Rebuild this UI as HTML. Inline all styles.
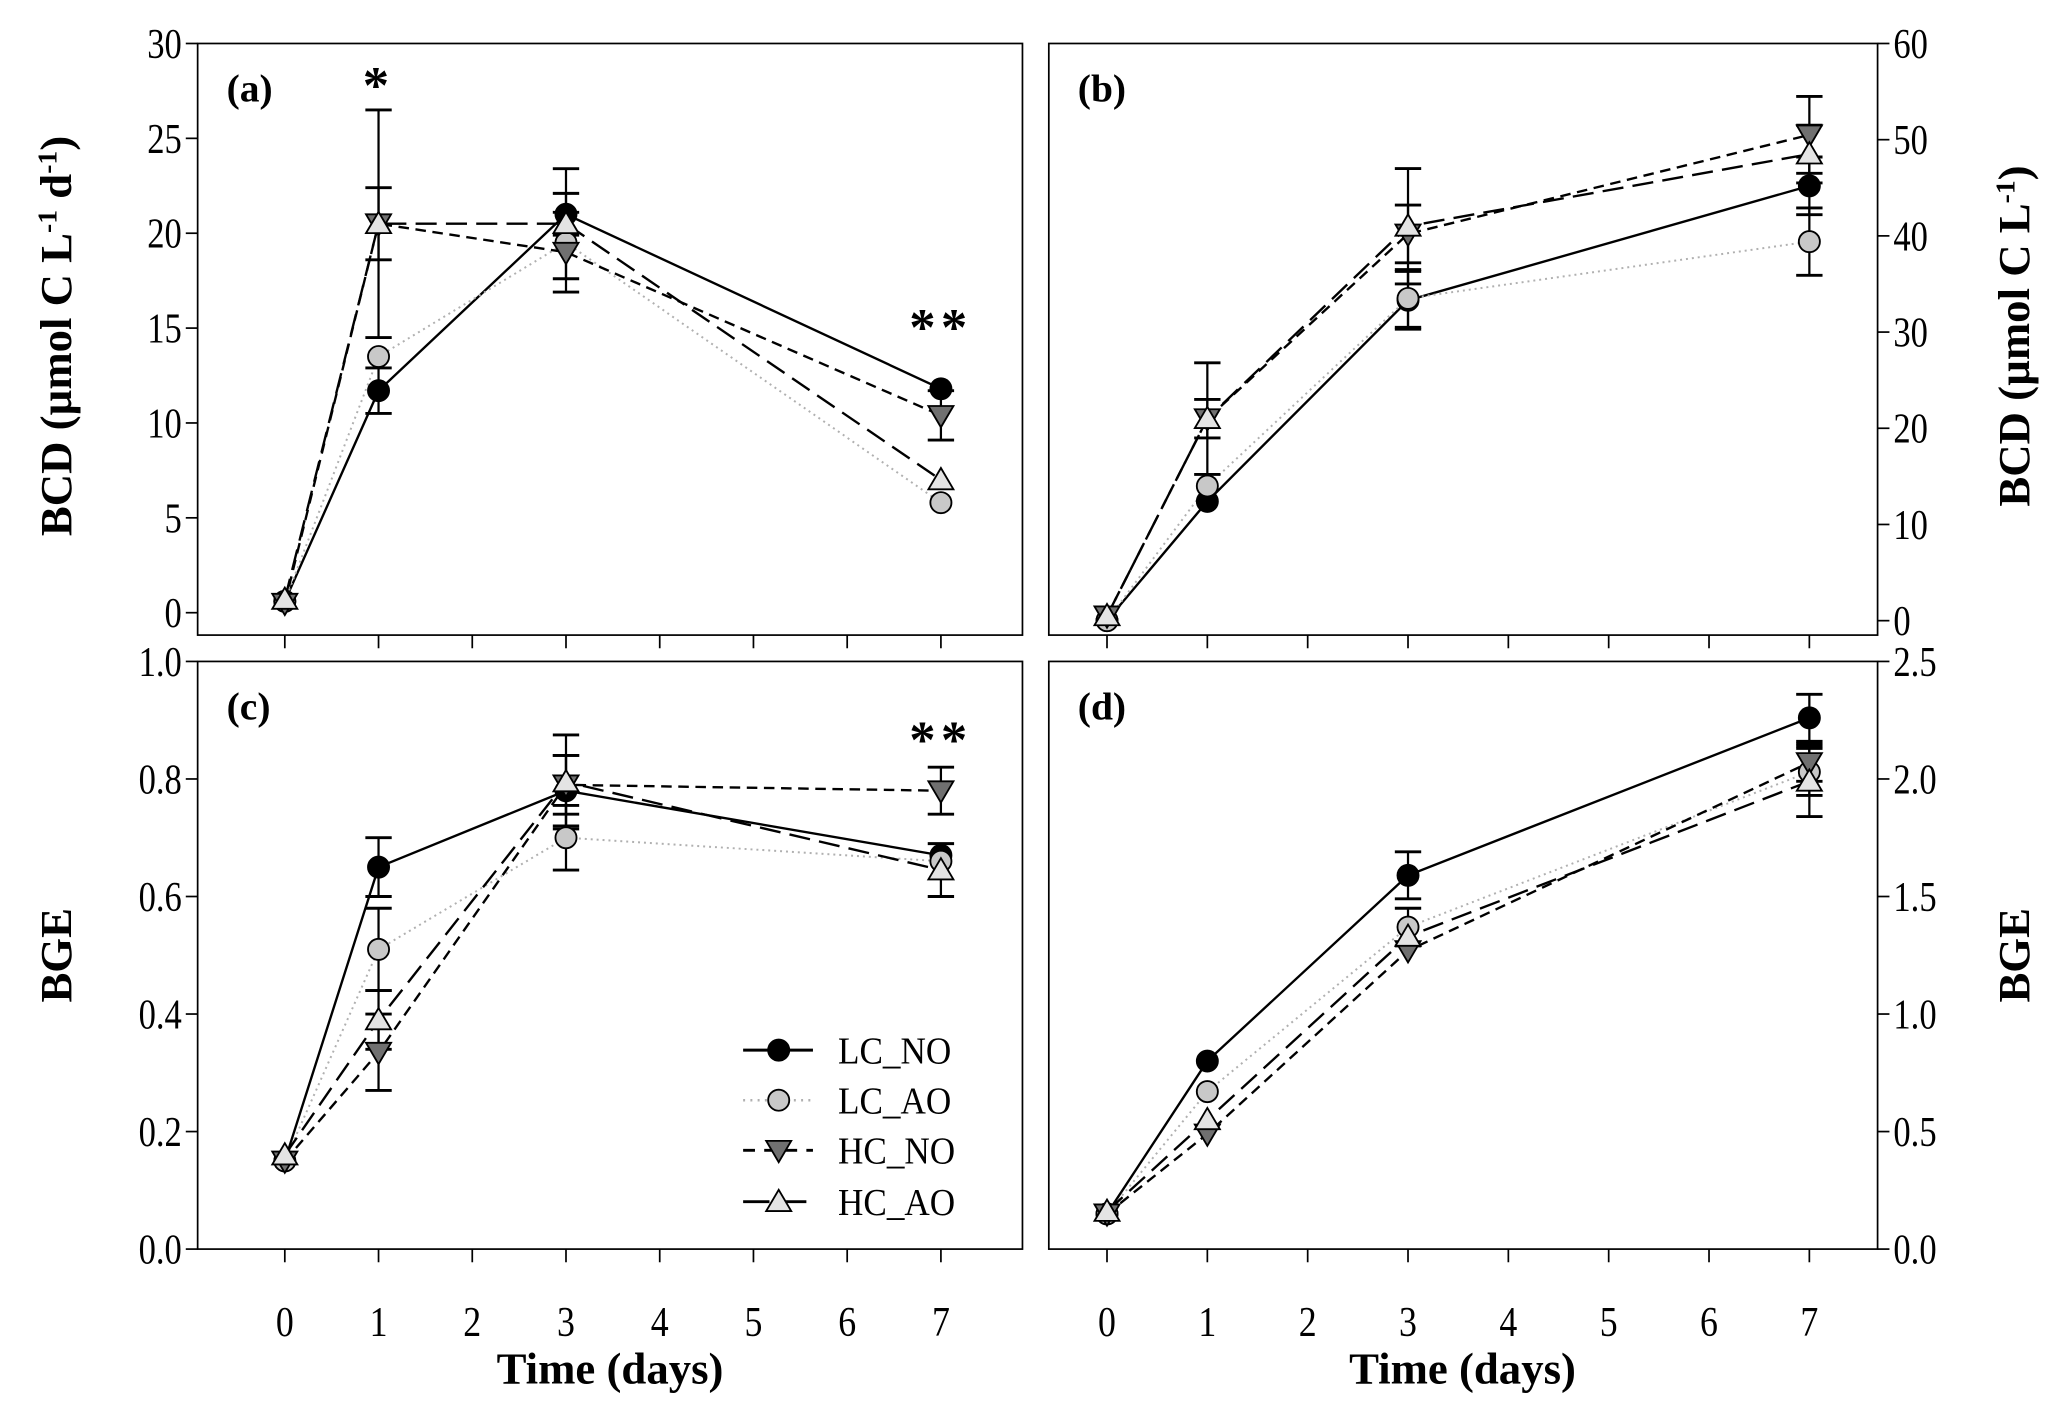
<!DOCTYPE html>
<html><head><meta charset="utf-8"><style>
html,body{margin:0;padding:0;background:#fff;}
svg{display:block;font-family:"Liberation Serif",serif;}
</style></head><body>
<svg id="fig" width="2066" height="1408" viewBox="0 0 1568 1068.6" xmlns="http://www.w3.org/2000/svg"></svg>
<script>
const days = [0, 1, 3, 7];
const seriesNames = ["LC_NO", "LC_AO", "HC_NO", "HC_AO"];
// Panel (a) BCD rate
const aLCNO = [0.6, 11.7, 21.0, 11.8];   const aLCNOerr = [0.2, 1.2, 1.1, 0.6];
const aLCAO = [0.6, 13.5, 19.5, 5.8];    const aLCAOerr = [0.2, 0.5, 0.8, 0.3];
const aHCNO = [0.5, 20.5, 19.0, 10.4];   const aHCNOerr = [0.2, 1.9, 2.1, 1.3];
const aHCAO = [0.7, 20.5, 20.5, 7.0];    const aHCAOerr = [0.2, 6.0, 2.9, 0.7];
// Panel (b) cumulative BCD
const bLCNO = [0, 12.4, 33.3, 45.2];     const bLCNOerr = [0.5, 1.5, 3.0, 3.0];
const bLCAO = [0, 14.0, 33.5, 39.4];     const bLCAOerr = [0.5, 1.5, 3.0, 3.5];
const bHCNO = [0.5, 21.0, 40.2, 50.5];   const bHCNOerr = [0.5, 2.0, 3.0, 4.0];
const bHCAO = [0.5, 21.0, 41.0, 48.5];   const bHCAOerr = [0.5, 5.8, 6.0, 3.0];
// Panel (c) BGE
const cLCNO = [0.15, 0.65, 0.78, 0.67];  const cLCNOerr = [0.01, 0.05, 0.06, 0.02];
const cLCAO = [0.15, 0.51, 0.70, 0.66];  const cLCAOerr = [0.01, 0.07, 0.055, 0.02];
const cHCNO = [0.15, 0.335, 0.79, 0.78]; const cHCNOerr = [0.01, 0.065, 0.05, 0.04];
const cHCAO = [0.16, 0.39, 0.795, 0.645];const cHCAOerr = [0.01, 0.05, 0.08, 0.045];
// Panel (d) cumulative BGE
const dLCNO = [0.15, 0.80, 1.59, 2.26];  const dLCNOerr = [0.02, 0.07, 0.10, 0.10];
const dLCAO = [0.15, 0.67, 1.37, 2.03];  const dLCAOerr = [0.02, 0.05, 0.08, 0.10];
const dHCNO = [0.15, 0.49, 1.27, 2.07];  const dHCNOerr = [0.02, 0.06, 0.06, 0.08];
const dHCAO = [0.16, 0.55, 1.33, 1.99];  const dHCAOerr = [0.02, 0.06, 0.07, 0.15];
const xTicks = [0, 1, 2, 3, 4, 5, 6, 7];
const aTicks = [0, 5, 10, 15, 20, 25, 30];
const bTicks = [0, 10, 20, 30, 40, 50, 60];
const cTicks = ["0.0", "0.2", "0.4", "0.6", "0.8", "1.0"];
const dTicks = ["0.0", "0.5", "1.0", "1.5", "2.0", "2.5"];

const NS = "http://www.w3.org/2000/svg";
const svg = document.getElementById("fig");
function mk(tag, attrs, parent, text) {
  const e = document.createElementNS(NS, tag);
  for (const k in attrs) e.setAttribute(k, attrs[k]);
  if (text !== undefined) e.textContent = text;
  (parent || svg).appendChild(e);
  return e;
}
const styles = [
  {stroke: "#000", dash: "", lw: 1.8, fill: "#000", shape: "circle"},
  {stroke: "#b0b0b0", dash: "1.5,3", lw: 1.5, fill: "#c8c8c8", shape: "circle"},
  {stroke: "#000", dash: "8,5", lw: 1.8, fill: "#707070", shape: "down"},
  {stroke: "#000", dash: "16,7", lw: 1.8, fill: "#e4e4e4", shape: "up"}
];
function marker(g, s, x, y) {
  if (s.shape === "circle") return mk("circle", {cx: x, cy: y, r: 8, fill: s.fill, stroke: "#000", "stroke-width": 1.4}, g);
  const r = 9.5;
  const pts = s.shape === "down"
    ? [[x - r, y - r * 0.75], [x + r, y - r * 0.75], [x, y + r * 0.95]]
    : [[x - r, y + r * 0.75], [x + r, y + r * 0.75], [x, y - r * 0.95]];
  return mk("polygon", {points: pts.map(p => p.join(",")).join(" "), fill: s.fill, stroke: "#000", "stroke-width": 1.4}, g);
}

function panel(p) {
  const g = mk("g", {});
  
  
  const X = v => p.x0 + (v - p.xmin) / (p.xmax - p.xmin) * (p.x1 - p.x0);
  const Y = v => p.y1 - (v - p.ymin) / (p.ymax - p.ymin) * (p.y1 - p.y0);
  const frame = mk("rect", {x: p.x0, y: p.y0, width: p.x1 - p.x0, height: p.y1 - p.y0, fill: "none", stroke: "#000", "stroke-width": 1.3}, g);
  
  
  p.ticks.forEach(t => {
    const v = parseFloat(t), y = Y(v);
    const ax = p.right ? p.x1 : p.x0, d = p.right ? 9 : -9;
    mk("line", {x1: ax, y1: y, x2: ax + d, y2: y, stroke: "#000", "stroke-width": 1.3}, g);
    const tx0 = p.right ? ax + 12 : ax - 12;
    const tx = mk("text", {x: tx0, y: y + 11, "font-size": 32, "text-anchor": p.right ? "start" : "end", transform: `translate(${tx0},0) scale(0.82,1) translate(${-tx0},0)`}, g, t);
    
    
  });
  xTicks.forEach(t => {
    const x = X(t);
    mk("line", {x1: x, y1: p.y1, x2: x, y2: p.y1 + 10, stroke: "#000", "stroke-width": 1.3}, g);
    if (p.xlabels) {
      const tx = mk("text", {x: x, y: p.y1 + 66, "font-size": 32, "text-anchor": "middle", transform: `translate(${x},0) scale(0.85,1) translate(${-x},0)`}, g, t);
      
      
    }
  });
  const lab = mk("text", {x: p.x0 + 22, y: p.y0 + 44, "font-size": 30, "font-weight": "bold"}, g, "(" + p.id + ")");
  
  
  p.data.forEach((vals, i) => {
    const s = styles[i];
    const pl = mk("polyline", {points: days.map((d, j) => X(d) + "," + Y(vals[j])).join(" "), fill: "none", stroke: s.stroke, "stroke-width": s.lw, "stroke-dasharray": s.dash}, g);
    
    
  });
  p.data.forEach((vals, i) => {
    days.forEach((d, j) => {
      const e = p.err[i][j]; if (e < 0.03 * (p.ymax - p.ymin)) return;
      const x = X(d), yt = Y(vals[j] + e), yb = Y(vals[j] - e);
      mk("line", {x1: x, y1: yt, x2: x, y2: yb, stroke: "#000", "stroke-width": 1.7}, g);
      mk("line", {x1: x - 10, y1: yt, x2: x + 10, y2: yt, stroke: "#000", "stroke-width": 2.2}, g);
      mk("line", {x1: x - 10, y1: yb, x2: x + 10, y2: yb, stroke: "#000", "stroke-width": 2.2}, g);
    });
  });
  p.data.forEach((vals, i) => {
    days.forEach((d, j) => {
      const m = marker(g, styles[i], X(d), Y(vals[j]));
      
      
    });
  });
  (p.stars || []).forEach(st => {
    const t = mk("text", {x: X(st[0]), y: st[1], "font-size": 40, "font-weight": "bold", "text-anchor": "middle", "letter-spacing": "4"}, g, st[2]);
    
    
  });
  return {X, Y, g};
}

const L = {x0: 150, x1: 776, xmin: -0.93, xmax: 7.87};
const R = {x0: 796, x1: 1425, xmin: -0.58, xmax: 7.68};
panel(Object.assign({id: "a", y0: 33, y1: 482, ymin: -1.18, ymax: 30, ticks: aTicks.map(String),
  data: [aLCNO, aLCAO, aHCNO, aHCAO], err: [aLCNOerr, aLCAOerr, aHCNOerr, aHCAOerr],
  stars: [[1, 78, "*"], [7, 262, "**"]]}, L));
panel(Object.assign({id: "b", y0: 33, y1: 482, ymin: -1.5, ymax: 60, right: true, ticks: bTicks.map(String),
  data: [bLCNO, bLCAO, bHCNO, bHCAO], err: [bLCNOerr, bLCAOerr, bHCNOerr, bHCAOerr]}, R));
panel(Object.assign({id: "c", y0: 502, y1: 948, ymin: 0, ymax: 1.0, ticks: cTicks, xlabels: true,
  data: [cLCNO, cLCAO, cHCNO, cHCAO], err: [cLCNOerr, cLCAOerr, cHCNOerr, cHCAOerr],
  stars: [[7, 575, "**"]]}, L));
panel(Object.assign({id: "d", y0: 502, y1: 948, ymin: 0, ymax: 2.5, right: true, ticks: dTicks, xlabels: true,
  data: [dLCNO, dLCAO, dHCNO, dHCAO], err: [dLCNOerr, dLCAOerr, dHCNOerr, dHCAOerr]}, R));

const lg = mk("g", {});


const legY = [797, 835, 873, 912];
seriesNames.forEach((n, i) => {
  const s = styles[i], y = legY[i];
  const e = mk("g", {}, lg);
  
  
  mk("line", {x1: 564, y1: y, x2: 617, y2: y, stroke: s.stroke, "stroke-width": s.lw + 0.4, "stroke-dasharray": s.dash ? (i === 1 ? "1.5,4" : (i === 2 ? "9,7" : "20,8")) : ""}, e);
  marker(e, s, 591, y);
  const t = mk("text", {x: 636, y: y + 10, "font-size": 29, transform: `translate(636,0) scale(0.92,1) translate(-636,0)`}, e, n);
});

function title(x, y, rot, txt, name, size) {
  const t = mk("text", {x: x, y: y, "font-size": size || 34, "font-weight": "bold", "text-anchor": "middle", transform: rot ? `rotate(-90 ${x} ${y})` : ""});
  t.innerHTML = txt;
  
  
}
title(54, 255, true, 'BCD (µmol C L<tspan dy="-11" font-size="21">-1</tspan><tspan dy="11"> d</tspan><tspan dy="-11" font-size="21">-1</tspan><tspan dy="11">)</tspan>', 'y-axis-title-bcd-rate');
title(1540, 255, true, 'BCD (µmol C L<tspan dy="-11" font-size="21">-1</tspan><tspan dy="11">)</tspan>', 'y-axis-title-bcd-cumulative');
title(54, 725, true, 'BGE', 'y-axis-title-bge-left');
title(1540, 725, true, 'BGE', 'y-axis-title-bge-right');
title(463, 1050, false, 'Time (days)', 'x-axis-title-left');
title(1110, 1050, false, 'Time (days)', 'x-axis-title-right');
</script>
</body></html>
